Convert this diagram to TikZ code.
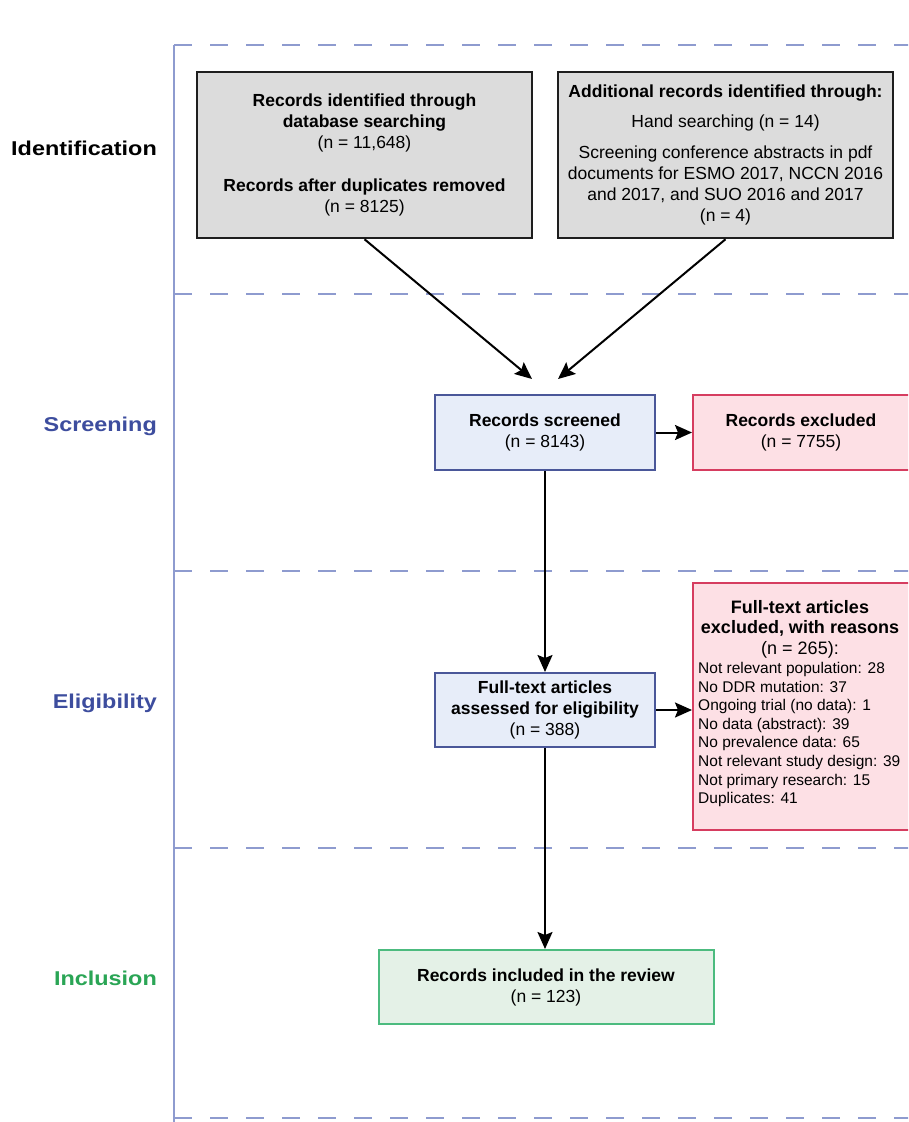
\documentclass[tikz,border=0pt]{standalone}
\usepackage{fontspec}
\setmainfont{Liberation Sans}
\newfontfamily\lanefont[FakeStretch=1.17]{Liberation Sans}
\usetikzlibrary{arrows.meta}
\definecolor{lanecol}{HTML}{8E9BCF}
\definecolor{grayfill}{HTML}{DCDCDC}
\definecolor{grayline}{HTML}{1E1E1E}
\definecolor{bluefill}{HTML}{E7EDF9}
\definecolor{blueline}{HTML}{4A5799}
\definecolor{redfill}{HTML}{FDE0E5}
\definecolor{redline}{HTML}{D63D60}
\definecolor{greenfill}{HTML}{E4F1E7}
\definecolor{greenline}{HTML}{4CBB7F}
\definecolor{bluelabel}{HTML}{3D4D9E}
\definecolor{greenlabel}{HTML}{2AA555}
\tikzset{
  lane/.style={draw=lanecol, line width=2pt, dash pattern=on 18pt off 18pt},
  laneaxis/.style={draw=lanecol, line width=2pt},
  lanelabel/.style={anchor=base east, inner sep=0pt, font=\lanefont\fontsize{20}{24}\selectfont\bfseries},
  boxbase/.style={rectangle, align=center, inner sep=0pt, font=\fontsize{17.5}{21}\selectfont},
  graybox/.style={boxbase, fill=grayfill, draw=grayline, line width=2.5pt},
  bluebox/.style={boxbase, fill=bluefill, draw=blueline, line width=2pt},
  redbox/.style={boxbase, fill=redfill, draw=redline, line width=2pt},
  greenbox/.style={boxbase, fill=greenfill, draw=greenline, line width=2pt},
  arr/.style={draw=black, line width=2pt, -{Stealth[length=17pt,width=15pt,inset=3pt]}}
}
\begin{document}
\begin{tikzpicture}[x=1pt,y=-1pt]
\useasboundingbox (0,0) rectangle (908,1122);
\clip (0,0) rectangle (908,1122);
\fill[white] (0,0) rectangle (908,1122);

% swimlane lines
\draw[lane] (174,45) -- (910,45);
\draw[lane] (174,294) -- (910,294);
\draw[lane] (174,571) -- (910,571);
\draw[lane] (174,848) -- (910,848);
\draw[lane] (174,1118) -- (910,1118);
\draw[laneaxis] (174,45) -- (174,1124);

% lane labels
\node[lanelabel, text=black] (lid) at (157,155) {Identification};
\node[lanelabel, text=bluelabel] (lsc) at (157,431) {Screening};
\node[lanelabel, text=bluelabel] (lel) at (157,708) {Eligibility};
\node[lanelabel, text=greenlabel] (lin) at (157,985) {Inclusion};

% boxes
\node[graybox, minimum width=335pt, minimum height=166pt] (box1) at (364.5,155)
  {\textbf{Records identified through}\\ \textbf{database searching}\\ (n = 11,648)\\[22pt]
   \textbf{Records after duplicates removed}\\ (n = 8125)};
\node[graybox, minimum width=335pt, minimum height=166pt] (box2) at (725.5,155)
  {\textbf{Additional records identified through:}\\[9pt] Hand searching (n = 14)\\[10pt]
   Screening conference abstracts in pdf\\ documents for ESMO 2017, NCCN 2016\\
   and 2017, and SUO 2016 and 2017\\ (n = 4)};

\node[bluebox, minimum width=220pt, minimum height=75pt] (screened) at (545,432.5)
  {\textbf{Records screened}\\ (n = 8143)};
\node[redbox, minimum width=222pt, minimum height=75pt] (excl1) at (804,432.5)
  {\hspace*{-6pt}\textbf{Records excluded}\\ \hspace*{-6pt}(n = 7755)};

\node[bluebox, minimum width=220pt, minimum height=74pt] (assessed) at (545,710)
  {\textbf{Full-text articles}\\ \textbf{assessed for eligibility}\\ (n = 388)};
\node[redbox, minimum width=222pt, minimum height=247pt] (excl2) at (804,706.5) {};
\node[align=center, anchor=north, inner sep=0pt, font=\fontsize{18}{20.5}\selectfont] (excl2head) at (800,600)
  {\textbf{Full-text articles}\\ \textbf{excluded, with reasons}\\ (n = 265):};
\node[align=left, anchor=north west, inner sep=0pt, font=\fontsize{15.5}{18.6}\selectfont] (excl2list) at (698,662)
  {Not relevant population: 28\\ No DDR mutation: 37\\ Ongoing trial (no data): 1\\
   No data (abstract): 39\\ No prevalence data: 65\\ Not relevant study design: 39\\
   Not primary research: 15\\ Duplicates: 41};

\node[greenbox, minimum width=335pt, minimum height=74pt] (included) at (546,987)
  {\textbf{Records included in the review}\\ (n = 123)};

% connectors
\coordinate (tipL) at (532,379);
\coordinate (tipR) at (558,379);
\draw[arr] (box1.south) -- (tipL);
\draw[arr] (box2.south) -- (tipR);
\draw[arr] (screened.east) -- (excl1.west);
\draw[arr] (screened.south) -- (assessed.north);
\draw[arr] (assessed.east) -- (assessed.east -| excl2.west);
\draw[arr] (assessed.south) -- (assessed.south |- included.north);
\end{tikzpicture}
\end{document}
